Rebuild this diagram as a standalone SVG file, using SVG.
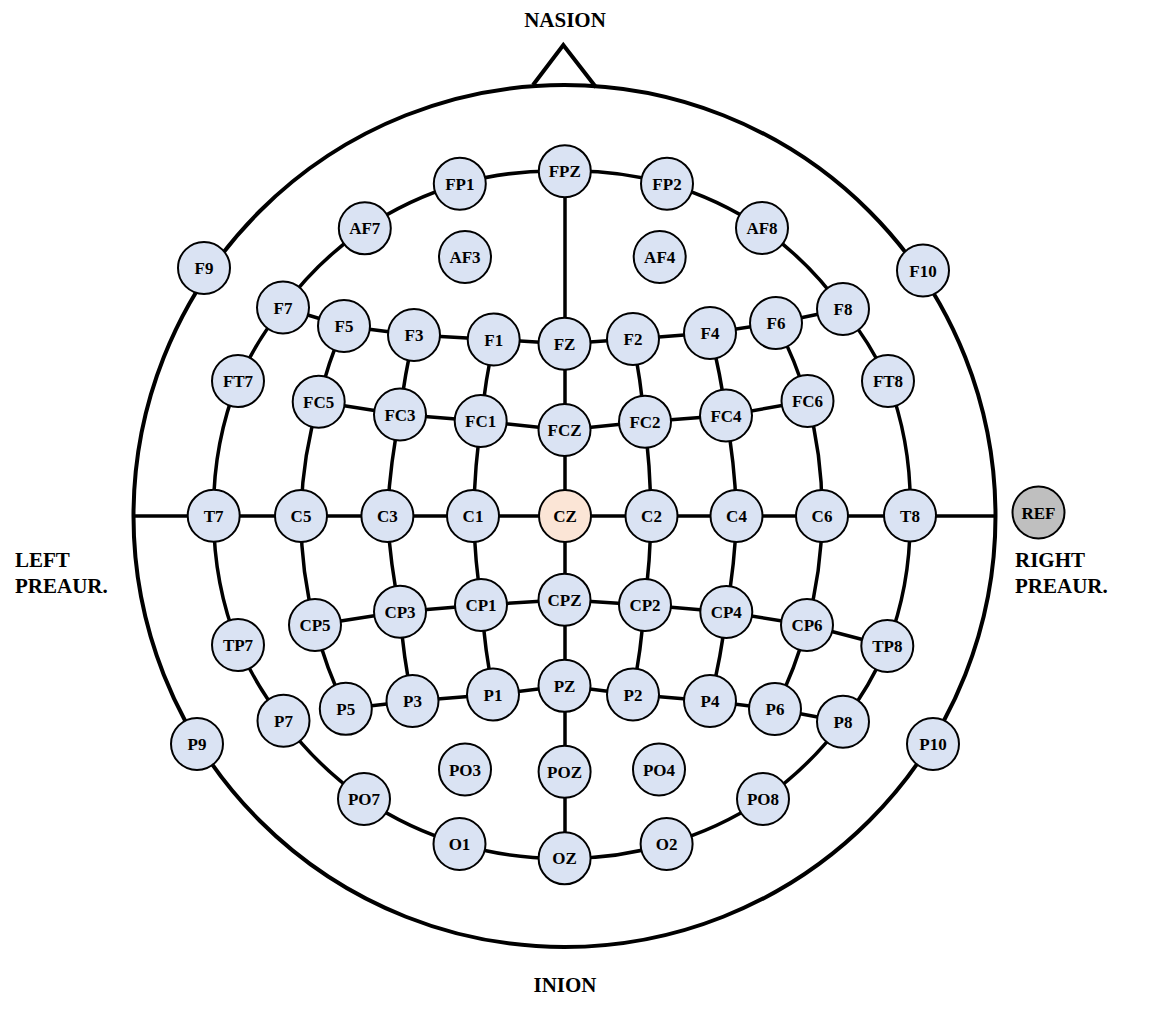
<svg xmlns="http://www.w3.org/2000/svg" width="1158" height="1011" viewBox="0 0 1158 1011">
<style>
.e circle{fill:#dae3f3;stroke:#000;stroke-width:2}
.e text{font-family:"Liberation Serif","Times New Roman",serif;font-weight:bold;font-size:17px;text-anchor:middle;fill:#000}
.cz circle{fill:#fbe5d6}
.ref circle{fill:#bfbfbf}
.lbl{font-family:"Liberation Serif","Times New Roman",serif;font-weight:bold;font-size:21px;fill:#000}
.ln{fill:none;stroke:#000;stroke-width:3.5}
.head{fill:none;stroke:#000;stroke-width:4}
</style>
<rect width="1158" height="1011" fill="#fff"/>
<g id="head">
<circle class="head" cx="564.5" cy="516" r="431"/>
<polyline class="head" points="533,85 563.3,45 596,87.3" stroke-linejoin="miter"/>
</g>
<g id="labels">
<text class="lbl" x="565" y="27" text-anchor="middle">NASION</text>
<text class="lbl" x="565" y="992" text-anchor="middle">INION</text>
<text class="lbl" x="15" y="567">LEFT</text>
<text class="lbl" x="15" y="593">PREAUR.</text>
<text class="lbl" x="1015" y="567">RIGHT</text>
<text class="lbl" x="1015" y="593">PREAUR.</text>
</g>
<g id="connectors">
<path class="ln" d="M459.8 183.7 A347 347 0 0 1 564.8 171.2 A347 347 0 0 1 667 183.7 A347 347 0 0 1 762 228 A347 347 0 0 1 843 309 A347 347 0 0 1 888 381 A347 347 0 0 1 910 515.5 A347 347 0 0 1 887.3 646 A347 347 0 0 1 843 721.7 A347 347 0 0 1 763.6 799 A347 347 0 0 1 666.6 844 A347 347 0 0 1 564.6 858.3 A347 347 0 0 1 459.5 844 A347 347 0 0 1 364 799 A347 347 0 0 1 283.5 720.7 A347 347 0 0 1 238 645 A347 347 0 0 1 213.7 515.7 A347 347 0 0 1 238 381 A347 347 0 0 1 283 307.5 A347 347 0 0 1 364.8 228.3 A347 347 0 0 1 459.8 183.7 Z"/>
<path class="ln" d="M565 171 V858"/>
<path class="ln" d="M133 516 H996"/>
<path class="ln" d="M344 326 A420 420 0 0 0 318.7 401.7 A420 420 0 0 0 301 516 A420 420 0 0 0 315 625 A420 420 0 0 0 345.8 708.8"/>
<path class="ln" d="M414 335 A650 650 0 0 0 400 414.5 A650 650 0 0 0 387.4 516 A650 650 0 0 0 400 611.7 A650 650 0 0 0 412.5 701"/>
<path class="ln" d="M493.7 339.5 A1200 1200 0 0 0 480.7 421 A1200 1200 0 0 0 473 516 A1200 1200 0 0 0 481 605 A1200 1200 0 0 0 493 694.5"/>
<path class="ln" d="M633 339 A1200 1200 0 0 1 645 421.7 A1200 1200 0 0 1 651.5 516 A1200 1200 0 0 1 645 605 A1200 1200 0 0 1 633 694.5"/>
<path class="ln" d="M710 333 A650 650 0 0 1 726 415.5 A650 650 0 0 1 736.5 516 A650 650 0 0 1 726.3 612 A650 650 0 0 1 710 701"/>
<path class="ln" d="M776 323 A420 420 0 0 1 807.5 401 A420 420 0 0 1 822 516 A420 420 0 0 1 807 625 A420 420 0 0 1 775 709"/>
<polyline class="ln" points="283,307.5 344,326 414,335 493.7,339.5 564.5,343.7 633,339 710,333 776,323 843,309"/>
<polyline class="ln" points="318.7,401.7 400,414.5 480.7,421 564.5,430 645,421.7 726,415.5 807.5,401"/>
<polyline class="ln" points="315,625 400,611.7 481,605 564.5,599.7 645,605 726.3,612 807,625 887.3,646"/>
<polyline class="ln" points="345.8,708.8 412.5,701 493,694.5 564.5,685.8 633,694.5 710,701 775,709 843,721.7"/>
</g>
<g id="FP1" class="e"><circle cx="459.8" cy="183.7" r="26"/><text x="459.8" y="189.7">FP1</text></g>
<g id="FPZ" class="e"><circle cx="564.8" cy="171.2" r="26"/><text x="564.8" y="177.2">FPZ</text></g>
<g id="FP2" class="e"><circle cx="667" cy="183.7" r="26"/><text x="667" y="189.7">FP2</text></g>
<g id="AF7" class="e"><circle cx="364.8" cy="228.3" r="26"/><text x="364.8" y="234.3">AF7</text></g>
<g id="AF3" class="e"><circle cx="465" cy="257" r="26"/><text x="465" y="263">AF3</text></g>
<g id="AF4" class="e"><circle cx="659.7" cy="257" r="26"/><text x="659.7" y="263">AF4</text></g>
<g id="AF8" class="e"><circle cx="762" cy="228" r="26"/><text x="762" y="234">AF8</text></g>
<g id="F9" class="e"><circle cx="204" cy="268" r="26"/><text x="204" y="274">F9</text></g>
<g id="F10" class="e"><circle cx="923" cy="270.5" r="26"/><text x="923" y="276.5">F10</text></g>
<g id="F7" class="e"><circle cx="283" cy="307.5" r="26"/><text x="283" y="313.5">F7</text></g>
<g id="F5" class="e"><circle cx="344" cy="326" r="26"/><text x="344" y="332">F5</text></g>
<g id="F3" class="e"><circle cx="414" cy="335" r="26"/><text x="414" y="341">F3</text></g>
<g id="F1" class="e"><circle cx="493.7" cy="339.5" r="26"/><text x="493.7" y="345.5">F1</text></g>
<g id="FZ" class="e"><circle cx="564.5" cy="343.7" r="26"/><text x="564.5" y="349.7">FZ</text></g>
<g id="F2" class="e"><circle cx="633" cy="339" r="26"/><text x="633" y="345">F2</text></g>
<g id="F4" class="e"><circle cx="710" cy="333" r="26"/><text x="710" y="339">F4</text></g>
<g id="F6" class="e"><circle cx="776" cy="323" r="26"/><text x="776" y="329">F6</text></g>
<g id="F8" class="e"><circle cx="843" cy="309" r="26"/><text x="843" y="315">F8</text></g>
<g id="FT7" class="e"><circle cx="238" cy="381" r="26"/><text x="238" y="387">FT7</text></g>
<g id="FC5" class="e"><circle cx="318.7" cy="401.7" r="26"/><text x="318.7" y="407.7">FC5</text></g>
<g id="FC3" class="e"><circle cx="400" cy="414.5" r="26"/><text x="400" y="420.5">FC3</text></g>
<g id="FC1" class="e"><circle cx="480.7" cy="421" r="26"/><text x="480.7" y="427">FC1</text></g>
<g id="FCZ" class="e"><circle cx="564.5" cy="430" r="26"/><text x="564.5" y="436">FCZ</text></g>
<g id="FC2" class="e"><circle cx="645" cy="421.7" r="26"/><text x="645" y="427.7">FC2</text></g>
<g id="FC4" class="e"><circle cx="726" cy="415.5" r="26"/><text x="726" y="421.5">FC4</text></g>
<g id="FC6" class="e"><circle cx="807.5" cy="401" r="26"/><text x="807.5" y="407">FC6</text></g>
<g id="FT8" class="e"><circle cx="888" cy="381" r="26"/><text x="888" y="387">FT8</text></g>
<g id="T7" class="e"><circle cx="213.7" cy="515.7" r="26"/><text x="213.7" y="521.7">T7</text></g>
<g id="C5" class="e"><circle cx="301" cy="516" r="26"/><text x="301" y="522">C5</text></g>
<g id="C3" class="e"><circle cx="387.4" cy="516" r="26"/><text x="387.4" y="522">C3</text></g>
<g id="C1" class="e"><circle cx="473" cy="516" r="26"/><text x="473" y="522">C1</text></g>
<g id="CZ" class="e cz"><circle cx="565" cy="516" r="26"/><text x="565" y="522">CZ</text></g>
<g id="C2" class="e"><circle cx="651.5" cy="516" r="26"/><text x="651.5" y="522">C2</text></g>
<g id="C4" class="e"><circle cx="736.5" cy="516" r="26"/><text x="736.5" y="522">C4</text></g>
<g id="C6" class="e"><circle cx="822" cy="516" r="26"/><text x="822" y="522">C6</text></g>
<g id="T8" class="e"><circle cx="910" cy="515.5" r="26"/><text x="910" y="521.5">T8</text></g>
<g id="REF" class="e ref"><circle cx="1038.5" cy="512.5" r="26"/><text x="1038.5" y="518.5">REF</text></g>
<g id="TP7" class="e"><circle cx="238" cy="645" r="26"/><text x="238" y="651">TP7</text></g>
<g id="CP5" class="e"><circle cx="315" cy="625" r="26"/><text x="315" y="631">CP5</text></g>
<g id="CP3" class="e"><circle cx="400" cy="611.7" r="26"/><text x="400" y="617.7">CP3</text></g>
<g id="CP1" class="e"><circle cx="481" cy="605" r="26"/><text x="481" y="611">CP1</text></g>
<g id="CPZ" class="e"><circle cx="564.5" cy="599.7" r="26"/><text x="564.5" y="605.7">CPZ</text></g>
<g id="CP2" class="e"><circle cx="645" cy="605" r="26"/><text x="645" y="611">CP2</text></g>
<g id="CP4" class="e"><circle cx="726.3" cy="612" r="26"/><text x="726.3" y="618">CP4</text></g>
<g id="CP6" class="e"><circle cx="807" cy="625" r="26"/><text x="807" y="631">CP6</text></g>
<g id="TP8" class="e"><circle cx="887.3" cy="646" r="26"/><text x="887.3" y="652">TP8</text></g>
<g id="P9" class="e"><circle cx="197" cy="744" r="26"/><text x="197" y="750">P9</text></g>
<g id="P7" class="e"><circle cx="283.5" cy="720.7" r="26"/><text x="283.5" y="726.7">P7</text></g>
<g id="P5" class="e"><circle cx="345.8" cy="708.8" r="26"/><text x="345.8" y="714.8">P5</text></g>
<g id="P3" class="e"><circle cx="412.5" cy="701" r="26"/><text x="412.5" y="707">P3</text></g>
<g id="P1" class="e"><circle cx="493" cy="694.5" r="26"/><text x="493" y="700.5">P1</text></g>
<g id="PZ" class="e"><circle cx="564.5" cy="685.8" r="26"/><text x="564.5" y="691.8">PZ</text></g>
<g id="P2" class="e"><circle cx="633" cy="694.5" r="26"/><text x="633" y="700.5">P2</text></g>
<g id="P4" class="e"><circle cx="710" cy="701" r="26"/><text x="710" y="707">P4</text></g>
<g id="P6" class="e"><circle cx="775" cy="709" r="26"/><text x="775" y="715">P6</text></g>
<g id="P8" class="e"><circle cx="843" cy="721.7" r="26"/><text x="843" y="727.7">P8</text></g>
<g id="P10" class="e"><circle cx="933" cy="744" r="26"/><text x="933" y="750">P10</text></g>
<g id="PO7" class="e"><circle cx="364" cy="799" r="26"/><text x="364" y="805">PO7</text></g>
<g id="PO3" class="e"><circle cx="465" cy="769.5" r="26"/><text x="465" y="775.5">PO3</text></g>
<g id="POZ" class="e"><circle cx="564.6" cy="771.7" r="26"/><text x="564.6" y="777.7">POZ</text></g>
<g id="PO4" class="e"><circle cx="659" cy="769.5" r="26"/><text x="659" y="775.5">PO4</text></g>
<g id="PO8" class="e"><circle cx="763" cy="799" r="26"/><text x="763" y="805">PO8</text></g>
<g id="O1" class="e"><circle cx="459.5" cy="844" r="26"/><text x="459.5" y="850">O1</text></g>
<g id="OZ" class="e"><circle cx="564.6" cy="858.3" r="26"/><text x="564.6" y="864.3">OZ</text></g>
<g id="O2" class="e"><circle cx="666.6" cy="844" r="26"/><text x="666.6" y="850">O2</text></g>
</svg>
